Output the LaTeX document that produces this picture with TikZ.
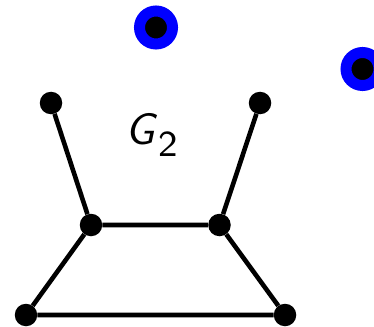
\documentclass[tikz,border=0pt]{standalone}
\begin{document}
\begin{tikzpicture}[x=1pt,y=-1pt,
  vtx/.style={circle,fill=black,inner sep=0pt,minimum size=22.5pt},
  ring/.style={circle,fill=black,draw=blue,line width=11pt,inner sep=0pt,minimum size=33pt},
  edge/.style={line width=4.6pt}]
\useasboundingbox (0,0) rectangle (374,326);
\node[ring] (r1) at (156,27.5) {};
\node[ring] (r2) at (362.5,69) {};
\node[vtx] (a) at (51,103) {};
\node[vtx] (b) at (260,103) {};
\node[vtx] (c) at (91,225) {};
\node[vtx] (d) at (219.5,225) {};
\node[vtx] (e) at (26,315) {};
\node[vtx] (f) at (285,315) {};
\draw[edge] (a) -- (c) (b) -- (d) (c) -- (d) (c) -- (e) (d) -- (f) (e) -- (f);
\node[inner sep=0pt,anchor=base west] (lbl) at (125,144) {\scalebox{4.4}{\sffamily\fontsize{10}{12}\selectfont\itshape G\hspace{0.8pt}\raisebox{-2.9pt}{\upshape\fontsize{8.3}{9}\selectfont 2}}};
\end{tikzpicture}
\end{document}
